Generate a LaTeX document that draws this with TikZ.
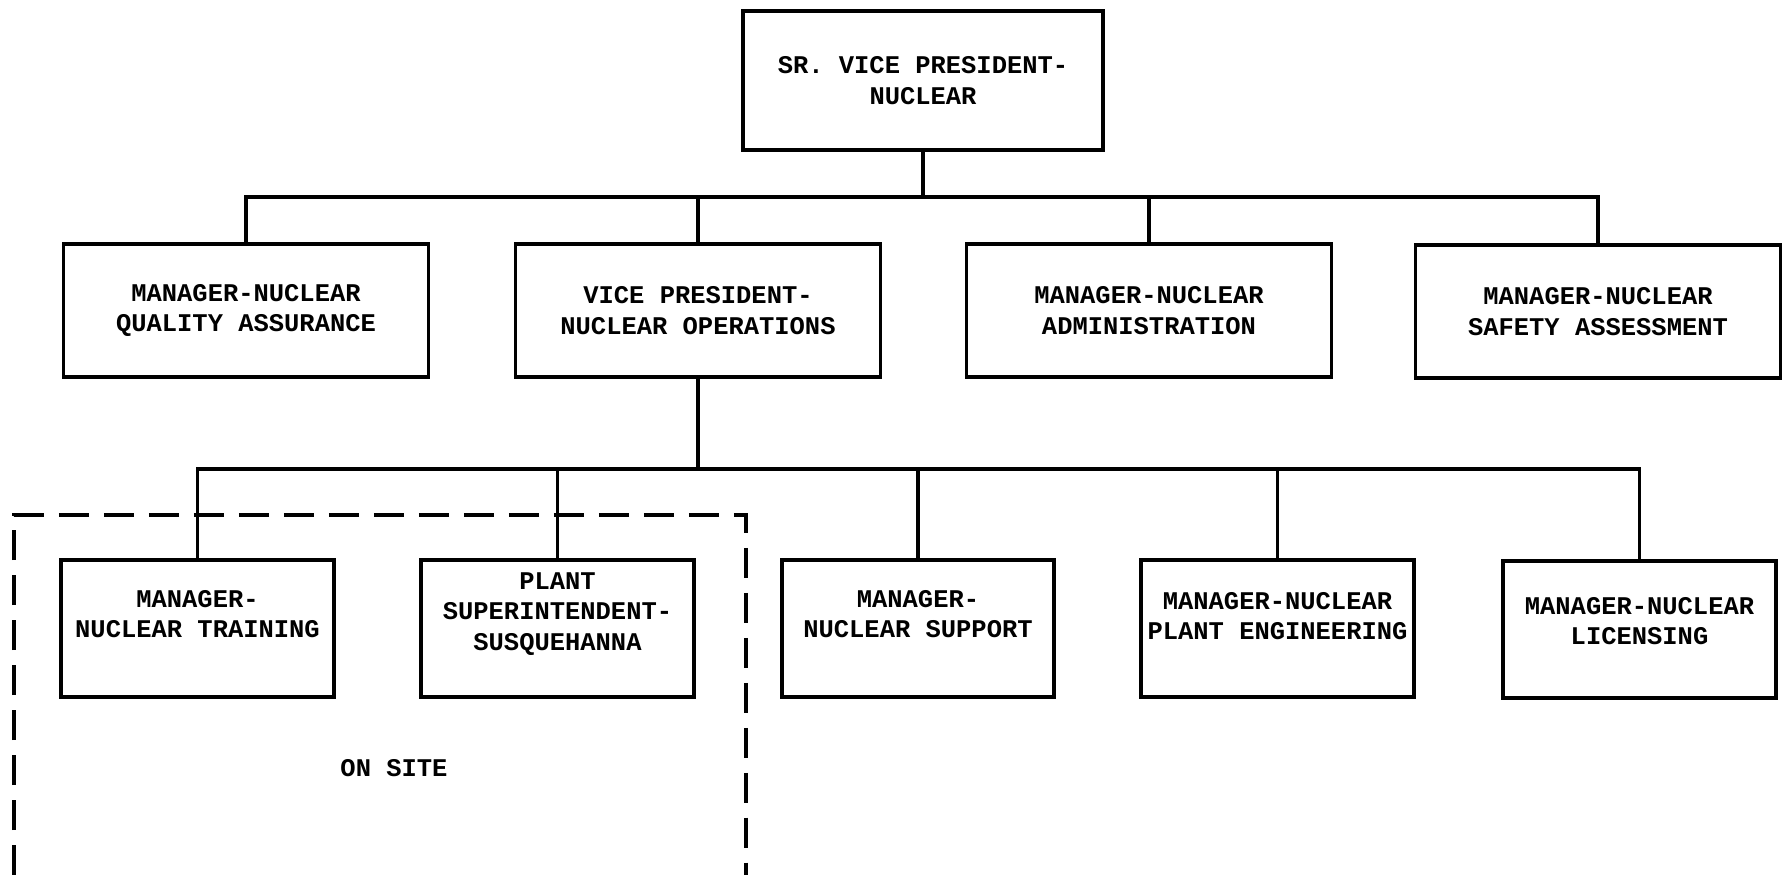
\documentclass[tikz,border=0pt]{standalone}
\usepackage{fontspec}
\newfontfamily\typew{Liberation Mono}
\tikzset{
	org/.style={draw,line width=2.1pt,rectangle,inner sep=0pt},
	topbox/.style={org,minimum width=7.2cm,minimum height=2.78cm},
	midbox/.style={org,minimum width=7.3cm,minimum height=2.66cm},
	lowbox/.style={org,minimum width=5.45cm,minimum height=2.74cm},
	lbl/.style={align=center,font=\typew\bfseries\fontsize{14.5}{17.4}\selectfont},
	link/.style={line width=2.1pt}
}
\begin{document}
\begin{tikzpicture}[x=0.02cm,y=-0.02cm]
		\useasboundingbox (0,0) rectangle (1785,875);
		% top
		\node[topbox,lbl] (svp) at (923,80.5) {SR. VICE PRESIDENT-\\NUCLEAR};
		% second row
		\node[midbox,lbl] (qa) at (246,310.5) {MANAGER-NUCLEAR\\QUALITY ASSURANCE};
		\node[midbox,lbl] (vp) at (698,310.5) {VICE PRESIDENT-\\NUCLEAR OPERATIONS};
		\node[midbox,lbl] (adm) at (1149,310.5) {MANAGER-NUCLEAR\\ADMINISTRATION};
		\node[midbox,lbl] (saf) at (1598,311.5) {MANAGER-NUCLEAR\\SAFETY ASSESSMENT};
		% third row
		\node[lowbox] (trn) at (197.5,628.5) {};
		\node[lowbox] (pst) at (557.5,628.5) {};
		\node[lowbox] (sup) at (918,628.5) {};
		\node[lowbox] (eng) at (1277.5,628.5) {};
		\node[lowbox] (lic) at (1639.5,629.5) {};
		\node[lbl] (trnt) at (197.5,614) {MANAGER-\\NUCLEAR TRAINING};
		\node[lbl] (pstt) at (557.5,614) {PLANT\\SUPERINTENDENT-\\SUSQUEHANNA};
		\node[lbl] (supt) at (918,614) {MANAGER-\\NUCLEAR SUPPORT};
		\node[lbl] (engt) at (1277.5,616) {MANAGER-NUCLEAR\\PLANT ENGINEERING};
		\node[lbl] (lict) at (1639.5,621) {MANAGER-NUCLEAR\\LICENSING};
		% buses
		\coordinate (b1) at (923,197);
		\coordinate (b3) at (698,469);
		\draw[link] (svp.south) -- (b1);
		\draw[link] (qa.north) |- (saf.north |- b1) -- (saf.north);
		\foreach \n in {vp,adm}
		\draw[link] (\n.north) -- (\n.north |- b1);
		\draw[link] (vp.south) -- (b3);
		\draw[link] (trn.north) |- (lic.north |- b3) -- (lic.north);
		\foreach \n in {pst,sup,eng}
		\draw[link] (\n.north) -- (\n.north |- b3);
		% on site area
		\draw[line width=2.2pt,dash pattern=on 0.6cm off 0.3cm]
		(14,875) -- (14,515) -- (746,515) -- (746,875);
		\node[lbl] (onsite) at (394,768) {ON SITE};
	\end{tikzpicture}
\end{document}
